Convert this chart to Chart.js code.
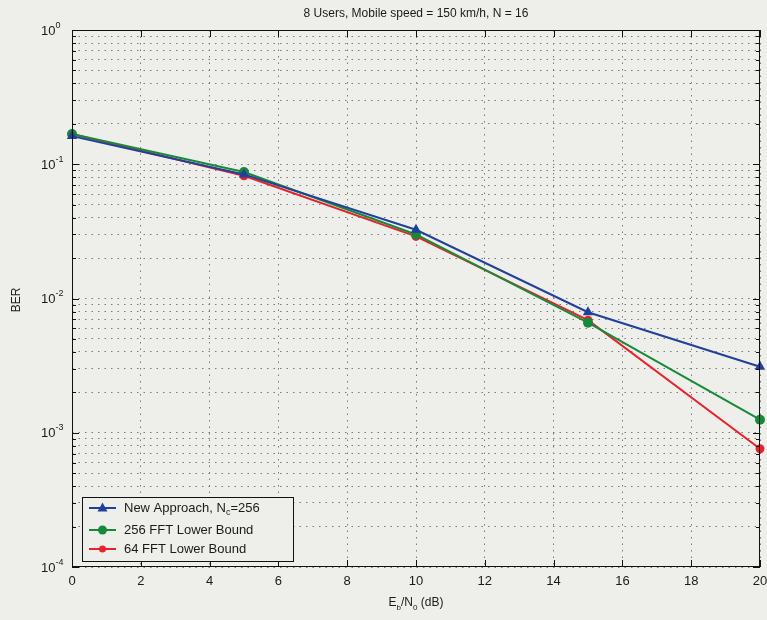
<!DOCTYPE html>
<html>
<head>
<meta charset="utf-8">
<title>BER vs Eb/N0</title>
<script src="https://cdn.jsdelivr.net/npm/chart.js@4.4.1/dist/chart.umd.min.js"></script>
<style>
  body { margin: 0; background: #eeeeea; }
  canvas { display: block; }
</style>
</head>
<body>
<canvas id="grafico" width="767" height="620"></canvas>
<script>
// Eb/N0 points (dB) and BER per curve
const snrDb = [0, 5, 10, 15, 20];
const berNewApproach = [0.162, 0.084, 0.0325, 0.0079, 0.0031];
const ber256Fft = [0.168, 0.0876, 0.0300, 0.0066, 0.00125];
const ber64Fft = [0.168, 0.082, 0.0290, 0.0069, 0.00076];

const xTicks = [0, 2, 4, 6, 8, 10, 12, 14, 16, 18, 20];
const yDecades = [1e-4, 1e-3, 1e-2, 1e-1, 1];
const yExponents = ["-4", "-3", "-2", "-1", "0"];

const FONT = "'Liberation Sans', Arial, Helvetica, sans-serif";
const BG = "#eeeeea";
const COR_AZUL = "#20409a";
const COR_VERDE = "#178a3a";
const COR_VERM = "#e8222c";

// minor grid for the log axis: 1..9 x each decade
const yGrid = [];
for (let i = 0; i < yDecades.length - 1; i++) {
  for (let m = 1; m <= 9; m++) yGrid.push(+(m * yDecades[i]).toPrecision(3));
}
yGrid.push(1);

const pares = (ys) => snrDb.map((x, i) => ({ x: x, y: ys[i] }));

// text with sub/superscript pieces: [texto, tipo] tipo 0 normal, 1 sub, 2 sup
function larguraRica(ctx, partes, tam) {
  let w = 0;
  partes.forEach(([t, tipo]) => {
    ctx.font = (tipo ? Math.round(tam * 0.7) : tam) + "px " + FONT;
    w += ctx.measureText(t).width;
  });
  return w;
}
function textoRico(ctx, partes, x, y, tam, alinhar) {
  let w = larguraRica(ctx, partes, tam);
  let cx = alinhar === "center" ? x - w / 2 : x;
  ctx.textBaseline = "middle";
  ctx.textAlign = "left";
  partes.forEach(([t, tipo]) => {
    ctx.font = (tipo ? Math.round(tam * 0.7) : tam) + "px " + FONT;
    let dy = tipo === 1 ? tam * 0.38 : tipo === 2 ? -tam * 0.45 : 0;
    ctx.fillText(t, cx, y + dy);
    cx += ctx.measureText(t).width;
  });
}

function desenhaMarcador(ctx, forma, x, y, r, cor) {
  ctx.fillStyle = cor;
  ctx.beginPath();
  if (forma === "triangle") {
    ctx.moveTo(x, y - r * 1.1);
    ctx.lineTo(x + r, y + r * 0.7);
    ctx.lineTo(x - r, y + r * 0.7);
    ctx.closePath();
  } else {
    ctx.arc(x, y, r, 0, Math.PI * 2);
  }
  ctx.fill();
}

const legendaItens = [
  { partes: [["New Approach, N", 0], ["c", 1], ["=256", 0]], cor: COR_AZUL, forma: "triangle", r: 5, y: 508 },
  { partes: [["256 FFT Lower Bound", 0]], cor: COR_VERDE, forma: "circle", r: 4.5, y: 530 },
  { partes: [["64 FFT Lower Bound", 0]], cor: COR_VERM, forma: "circle", r: 3.5, y: 549 }
];

const extras = {
  id: "extras",
  beforeDraw(chart) {
    const ctx = chart.ctx;
    ctx.save();
    ctx.fillStyle = BG;
    ctx.fillRect(0, 0, chart.width, chart.height);
    ctx.restore();
  },
  afterDraw(chart) {
    const ctx = chart.ctx;
    const a = chart.chartArea;
    const sx = chart.scales.x, sy = chart.scales.y;
    ctx.save();

    // box
    ctx.strokeStyle = "#111";
    ctx.lineWidth = 1;
    ctx.strokeRect(Math.round(a.left) + 0.5, Math.round(a.top) + 0.5,
      Math.round(a.right - a.left) - 1, Math.round(a.bottom - a.top) - 1);

    // inward ticks
    ctx.beginPath();
    yGrid.forEach(v => {
      const py = Math.round(sy.getPixelForValue(v)) + 0.5;
      const len = yDecades.includes(v) ? 7 : 4;
      ctx.moveTo(a.left, py); ctx.lineTo(a.left + len, py);
      ctx.moveTo(a.right, py); ctx.lineTo(a.right - len, py);
    });
    xTicks.forEach(v => {
      const px = Math.round(sx.getPixelForValue(v)) + 0.5;
      ctx.moveTo(px, a.bottom); ctx.lineTo(px, a.bottom - 7);
      ctx.moveTo(px, a.top); ctx.lineTo(px, a.top + 7);
    });
    ctx.stroke();

    // y tick labels 10^k
    ctx.fillStyle = "#1a1a1a";
    yDecades.forEach((v, i) => {
      const py = sy.getPixelForValue(v);
      textoRico(ctx, [["10", 0], [yExponents[i], 2]], 41, py + 1, 13, "left");
    });

    // title
    ctx.fillStyle = "#1a1a1a";
    ctx.font = "12px " + FONT;
    ctx.textAlign = "center";
    ctx.textBaseline = "middle";
    ctx.fillText("8 Users, Mobile speed = 150 km/h, N = 16", (a.left + a.right) / 2, 14);

    // axis titles
    textoRico(ctx, [["E", 0], ["b", 1], ["/N", 0], ["0", 1], [" (dB)", 0]],
      (a.left + a.right) / 2, 603, 12, "center");
    ctx.save();
    ctx.translate(17, 300);
    ctx.rotate(-Math.PI / 2);
    ctx.font = "12px " + FONT;
    ctx.textAlign = "center";
    ctx.textBaseline = "middle";
    ctx.fillText("BER", 0, 0);
    ctx.restore();

    // legend
    ctx.fillStyle = BG;
    ctx.fillRect(82, 497, 211, 64);
    ctx.strokeStyle = "#111";
    ctx.strokeRect(82.5, 497.5, 211, 64);
    legendaItens.forEach(it => {
      ctx.strokeStyle = it.cor;
      ctx.lineWidth = 2;
      ctx.beginPath();
      ctx.moveTo(89, it.y); ctx.lineTo(116, it.y);
      ctx.stroke();
      desenhaMarcador(ctx, it.forma, 102.5, it.y, it.r, it.cor);
      ctx.fillStyle = "#1a1a1a";
      textoRico(ctx, it.partes, 124, it.y, 13, "left");
    });
    ctx.restore();
  }
};

const serie = (label, ys, cor, forma, raio) => ({
  label: label,
  data: pares(ys),
  borderColor: cor,
  backgroundColor: cor,
  borderWidth: 2,
  pointStyle: forma,
  pointRadius: raio,
  pointBorderWidth: 0,
  clip: false,
  tension: 0
});

new Chart(document.getElementById("grafico"), {
  type: "line",
  data: {
    datasets: [
      serie("New Approach, Nc=256", berNewApproach, COR_AZUL, "triangle", 6),
      serie("256 FFT Lower Bound", ber256Fft, COR_VERDE, "circle", 5),
      serie("64 FFT Lower Bound", ber64Fft, COR_VERM, "circle", 4.5)
    ]
  },
  options: {
    responsive: false,
    animation: false,
    events: [],
    layout: { padding: { top: 30, right: 0, left: 0, bottom: 0 } },
    plugins: { legend: { display: false }, tooltip: { enabled: false }, title: { display: false } },
    scales: {
      x: {
        type: "linear",
        min: 0,
        max: 20,
        afterBuildTicks: s => { s.ticks = xTicks.map(v => ({ value: v })); },
        afterFit: s => { s.height = 53; s.paddingRight = 7; },
        ticks: { color: "#1a1a1a", font: { family: FONT, size: 13 }, padding: 7, maxRotation: 0 },
        grid: { color: "#7a7a7a", lineWidth: 1, drawTicks: false },
        border: { display: false, dash: [1.5, 5] }
      },
      y: {
        type: "logarithmic",
        min: 1e-4,
        max: 1,
        afterBuildTicks: s => { s.ticks = yGrid.map(v => ({ value: v })); },
        afterFit: s => { s.width = 72; },
        ticks: { display: false },
        grid: { color: "#7a7a7a", lineWidth: 1, drawTicks: false },
        border: { display: false, dash: [1.5, 5] }
      }
    }
  },
  plugins: [extras]
});
</script>
</body>
</html>
